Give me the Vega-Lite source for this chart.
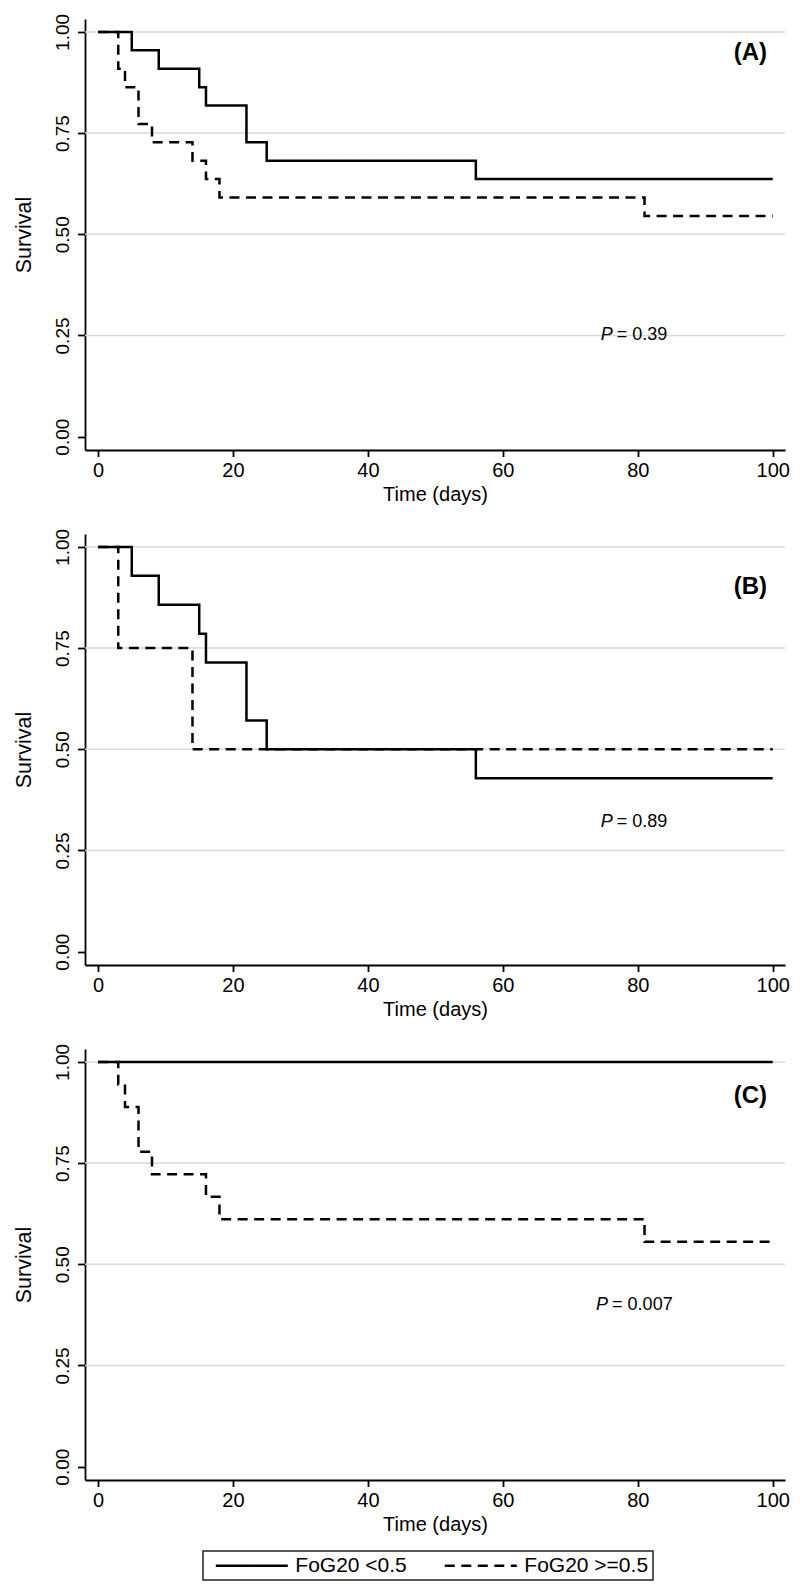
{
 "$schema": "https://vega.github.io/schema/vega-lite/v6.json",
 "padding": {"left": 13, "top": 13, "right": 5, "bottom": 5},
 "background": "white",
 "config": {
  "view": {"stroke": null},
  "font": "Liberation Sans",
  "axis": {"domainColor": "black", "domainWidth": 1.8, "tickColor": "black", "tickWidth": 1.8, "labelColor": "black", "titleColor": "black", "labelFont": "Liberation Sans", "titleFont": "Liberation Sans", "titleFontWeight": "normal", "grid": false, "labelFlush": false, "labelOverlap": false, "labelBound": false},
  "axisX": {"tickSize": 6.5, "labelPadding": 4, "titlePadding": 4, "labelFontSize": 20, "titleFontSize": 20},
  "axisY": {"tickSize": 7.5, "labelPadding": 5, "labelAngle": 270, "labelAlign": "center", "labelBaseline": "bottom", "titlePadding": 18, "labelFontSize": 19, "titleFontSize": 21.5},
  "legend": {"direction": "horizontal", "strokeColor": "#222222", "strokeWidth": 1.5, "fillColor": "white", "padding": 4, "symbolType": "M-4.8,0H4.8", "symbolSize": 225, "symbolStrokeWidth": 2.5, "symbolStrokeColor": "black", "symbolFillColor": "transparent", "symbolOffset": 34.3, "labelFontSize": 21, "labelFont": "Liberation Sans", "labelColor": "black", "labelOffset": 33, "columnPadding": 29}
 },
 "datasets": {
  "km": [
   {"panel": "A", "group": "FoG20 <0.5", "t": 0, "s": 1},
   {"panel": "A", "group": "FoG20 <0.5", "t": 5, "s": 0.9545},
   {"panel": "A", "group": "FoG20 <0.5", "t": 9, "s": 0.9091},
   {"panel": "A", "group": "FoG20 <0.5", "t": 15, "s": 0.8636},
   {"panel": "A", "group": "FoG20 <0.5", "t": 16, "s": 0.8182},
   {"panel": "A", "group": "FoG20 <0.5", "t": 22, "s": 0.7273},
   {"panel": "A", "group": "FoG20 <0.5", "t": 25, "s": 0.6818},
   {"panel": "A", "group": "FoG20 <0.5", "t": 56, "s": 0.6364},
   {"panel": "A", "group": "FoG20 <0.5", "t": 100, "s": 0.6364},
   {"panel": "A", "group": "FoG20 >=0.5", "t": 0, "s": 1},
   {"panel": "A", "group": "FoG20 >=0.5", "t": 3, "s": 0.9091},
   {"panel": "A", "group": "FoG20 >=0.5", "t": 4, "s": 0.8636},
   {"panel": "A", "group": "FoG20 >=0.5", "t": 6, "s": 0.7727},
   {"panel": "A", "group": "FoG20 >=0.5", "t": 8, "s": 0.7273},
   {"panel": "A", "group": "FoG20 >=0.5", "t": 14, "s": 0.6818},
   {"panel": "A", "group": "FoG20 >=0.5", "t": 16, "s": 0.6364},
   {"panel": "A", "group": "FoG20 >=0.5", "t": 18, "s": 0.5909},
   {"panel": "A", "group": "FoG20 >=0.5", "t": 81, "s": 0.5455},
   {"panel": "A", "group": "FoG20 >=0.5", "t": 100, "s": 0.5455},
   {"panel": "B", "group": "FoG20 <0.5", "t": 0, "s": 1},
   {"panel": "B", "group": "FoG20 <0.5", "t": 5, "s": 0.9286},
   {"panel": "B", "group": "FoG20 <0.5", "t": 9, "s": 0.8571},
   {"panel": "B", "group": "FoG20 <0.5", "t": 15, "s": 0.7857},
   {"panel": "B", "group": "FoG20 <0.5", "t": 16, "s": 0.7143},
   {"panel": "B", "group": "FoG20 <0.5", "t": 22, "s": 0.5714},
   {"panel": "B", "group": "FoG20 <0.5", "t": 25, "s": 0.5},
   {"panel": "B", "group": "FoG20 <0.5", "t": 56, "s": 0.4286},
   {"panel": "B", "group": "FoG20 <0.5", "t": 100, "s": 0.4286},
   {"panel": "B", "group": "FoG20 >=0.5", "t": 0, "s": 1},
   {"panel": "B", "group": "FoG20 >=0.5", "t": 3, "s": 0.75},
   {"panel": "B", "group": "FoG20 >=0.5", "t": 14, "s": 0.5},
   {"panel": "B", "group": "FoG20 >=0.5", "t": 100, "s": 0.5},
   {"panel": "C", "group": "FoG20 <0.5", "t": 0, "s": 1},
   {"panel": "C", "group": "FoG20 <0.5", "t": 100, "s": 1},
   {"panel": "C", "group": "FoG20 >=0.5", "t": 0, "s": 1},
   {"panel": "C", "group": "FoG20 >=0.5", "t": 3, "s": 0.9444},
   {"panel": "C", "group": "FoG20 >=0.5", "t": 4, "s": 0.8889},
   {"panel": "C", "group": "FoG20 >=0.5", "t": 6, "s": 0.7778},
   {"panel": "C", "group": "FoG20 >=0.5", "t": 8, "s": 0.7222},
   {"panel": "C", "group": "FoG20 >=0.5", "t": 16, "s": 0.6667},
   {"panel": "C", "group": "FoG20 >=0.5", "t": 18, "s": 0.6111},
   {"panel": "C", "group": "FoG20 >=0.5", "t": 81, "s": 0.5556},
   {"panel": "C", "group": "FoG20 >=0.5", "t": 100, "s": 0.5556}
  ],
  "grid": [{"g": 0.25}, {"g": 0.5}, {"g": 0.75}, {"g": 1}],
  "notes": [
   {"panel": "A", "tag": "(A)", "p": "P", "pval": "= 0.39"},
   {"panel": "B", "tag": "(B)", "p": "P", "pval": "= 0.89"},
   {"panel": "C", "tag": "(C)", "p": "P", "pval": "= 0.007"}
  ]
 },
 "spacing": 84,
 "bounds": "flush",
 "vconcat": [
  {
   "width": 700, "height": 431,
   "layer": [
    {"data": {"name": "grid"}, "mark": {"type": "rule", "color": "#d9d9d9", "strokeWidth": 1.5},
     "encoding": {"y": {"field": "g", "type": "quantitative", "scale": {"domain": [-0.033, 1.032], "nice": false, "zero": false}, "axis": {"values": [0, 0.25, 0.5, 0.75, 1], "format": ".2f", "title": "Survival"}}}},
    {"data": {"name": "km"}, "transform": [{"filter": "datum.panel === 'A'"}],
     "mark": {"type": "line", "interpolate": "step-after", "color": "black", "strokeWidth": 2.5},
     "encoding": {
      "x": {"field": "t", "type": "quantitative", "scale": {"domain": [-1.93, 101.82], "nice": false, "zero": false}, "axis": {"values": [0, 20, 40, 60, 80, 100], "title": "Time (days)"}},
      "y": {"field": "s", "type": "quantitative", "scale": {"domain": [-0.033, 1.032], "nice": false, "zero": false}, "axis": {"values": [0, 0.25, 0.5, 0.75, 1], "format": ".2f", "title": "Survival"}},
      "strokeDash": {"field": "group", "type": "nominal", "scale": {"domain": ["FoG20 <0.5", "FoG20 >=0.5"], "range": [[1, 0], [10, 6.5]]}, "legend": {"title": null, "orient": "none", "legendX": 118, "legendY": 1532}}
     }},
    {"data": {"name": "notes"}, "transform": [{"filter": "datum.panel === 'A'"}],
     "mark": {"type": "text", "font": "Liberation Sans", "fontWeight": "bold", "fontSize": 24, "align": "center", "baseline": "middle", "color": "black"},
     "encoding": {"x": {"datum": 96.7}, "y": {"datum": 0.948}, "text": {"field": "tag"}}},
    {"data": {"name": "notes"}, "transform": [{"filter": "datum.panel === 'A'"}],
     "mark": {"type": "text", "font": "Liberation Sans", "fontStyle": "italic", "fontSize": 18, "align": "right", "baseline": "middle", "color": "black"},
     "encoding": {"x": {"datum": 76.3}, "y": {"datum": 0.25}, "text": {"field": "p"}}},
    {"data": {"name": "notes"}, "transform": [{"filter": "datum.panel === 'A'"}],
     "mark": {"type": "text", "font": "Liberation Sans", "fontSize": 18, "align": "left", "baseline": "middle", "dx": 4, "color": "black"},
     "encoding": {"x": {"datum": 76.3}, "y": {"datum": 0.25}, "text": {"field": "pval"}}}
   ]
  },
  {
   "width": 700, "height": 431,
   "layer": [
    {"data": {"name": "grid"}, "mark": {"type": "rule", "color": "#d9d9d9", "strokeWidth": 1.5},
     "encoding": {"y": {"field": "g", "type": "quantitative", "scale": {"domain": [-0.033, 1.032], "nice": false, "zero": false}, "axis": {"values": [0, 0.25, 0.5, 0.75, 1], "format": ".2f", "title": "Survival"}}}},
    {"data": {"name": "km"}, "transform": [{"filter": "datum.panel === 'B'"}],
     "mark": {"type": "line", "interpolate": "step-after", "color": "black", "strokeWidth": 2.5},
     "encoding": {
      "x": {"field": "t", "type": "quantitative", "scale": {"domain": [-1.93, 101.82], "nice": false, "zero": false}, "axis": {"values": [0, 20, 40, 60, 80, 100], "title": "Time (days)"}},
      "y": {"field": "s", "type": "quantitative", "scale": {"domain": [-0.033, 1.032], "nice": false, "zero": false}, "axis": {"values": [0, 0.25, 0.5, 0.75, 1], "format": ".2f", "title": "Survival"}},
      "strokeDash": {"field": "group", "type": "nominal", "scale": {"domain": ["FoG20 <0.5", "FoG20 >=0.5"], "range": [[1, 0], [10, 6.5]]}, "legend": {"title": null, "orient": "none", "legendX": 118, "legendY": 1532}}
     }},
    {"data": {"name": "notes"}, "transform": [{"filter": "datum.panel === 'B'"}],
     "mark": {"type": "text", "font": "Liberation Sans", "fontWeight": "bold", "fontSize": 24, "align": "center", "baseline": "middle", "color": "black"},
     "encoding": {"x": {"datum": 96.7}, "y": {"datum": 0.9}, "text": {"field": "tag"}}},
    {"data": {"name": "notes"}, "transform": [{"filter": "datum.panel === 'B'"}],
     "mark": {"type": "text", "font": "Liberation Sans", "fontStyle": "italic", "fontSize": 18, "align": "right", "baseline": "middle", "color": "black"},
     "encoding": {"x": {"datum": 76.3}, "y": {"datum": 0.32}, "text": {"field": "p"}}},
    {"data": {"name": "notes"}, "transform": [{"filter": "datum.panel === 'B'"}],
     "mark": {"type": "text", "font": "Liberation Sans", "fontSize": 18, "align": "left", "baseline": "middle", "dx": 4, "color": "black"},
     "encoding": {"x": {"datum": 76.3}, "y": {"datum": 0.32}, "text": {"field": "pval"}}}
   ]
  },
  {
   "width": 700, "height": 431,
   "layer": [
    {"data": {"name": "grid"}, "mark": {"type": "rule", "color": "#d9d9d9", "strokeWidth": 1.5},
     "encoding": {"y": {"field": "g", "type": "quantitative", "scale": {"domain": [-0.033, 1.032], "nice": false, "zero": false}, "axis": {"values": [0, 0.25, 0.5, 0.75, 1], "format": ".2f", "title": "Survival"}}}},
    {"data": {"name": "km"}, "transform": [{"filter": "datum.panel === 'C'"}],
     "mark": {"type": "line", "interpolate": "step-after", "color": "black", "strokeWidth": 2.5},
     "encoding": {
      "x": {"field": "t", "type": "quantitative", "scale": {"domain": [-1.93, 101.82], "nice": false, "zero": false}, "axis": {"values": [0, 20, 40, 60, 80, 100], "title": "Time (days)"}},
      "y": {"field": "s", "type": "quantitative", "scale": {"domain": [-0.033, 1.032], "nice": false, "zero": false}, "axis": {"values": [0, 0.25, 0.5, 0.75, 1], "format": ".2f", "title": "Survival"}},
      "strokeDash": {"field": "group", "type": "nominal", "scale": {"domain": ["FoG20 <0.5", "FoG20 >=0.5"], "range": [[1, 0], [10, 6.5]]}, "legend": {"title": null, "orient": "none", "legendX": 118, "legendY": 1532}}
     }},
    {"data": {"name": "notes"}, "transform": [{"filter": "datum.panel === 'C'"}],
     "mark": {"type": "text", "font": "Liberation Sans", "fontWeight": "bold", "fontSize": 24, "align": "center", "baseline": "middle", "color": "black"},
     "encoding": {"x": {"datum": 96.7}, "y": {"datum": 0.915}, "text": {"field": "tag"}}},
    {"data": {"name": "notes"}, "transform": [{"filter": "datum.panel === 'C'"}],
     "mark": {"type": "text", "font": "Liberation Sans", "fontStyle": "italic", "fontSize": 18, "align": "right", "baseline": "middle", "color": "black"},
     "encoding": {"x": {"datum": 75.6}, "y": {"datum": 0.4}, "text": {"field": "p"}}},
    {"data": {"name": "notes"}, "transform": [{"filter": "datum.panel === 'C'"}],
     "mark": {"type": "text", "font": "Liberation Sans", "fontSize": 18, "align": "left", "baseline": "middle", "dx": 4, "color": "black"},
     "encoding": {"x": {"datum": 75.6}, "y": {"datum": 0.4}, "text": {"field": "pval"}}}
   ]
  }
 ]
}
